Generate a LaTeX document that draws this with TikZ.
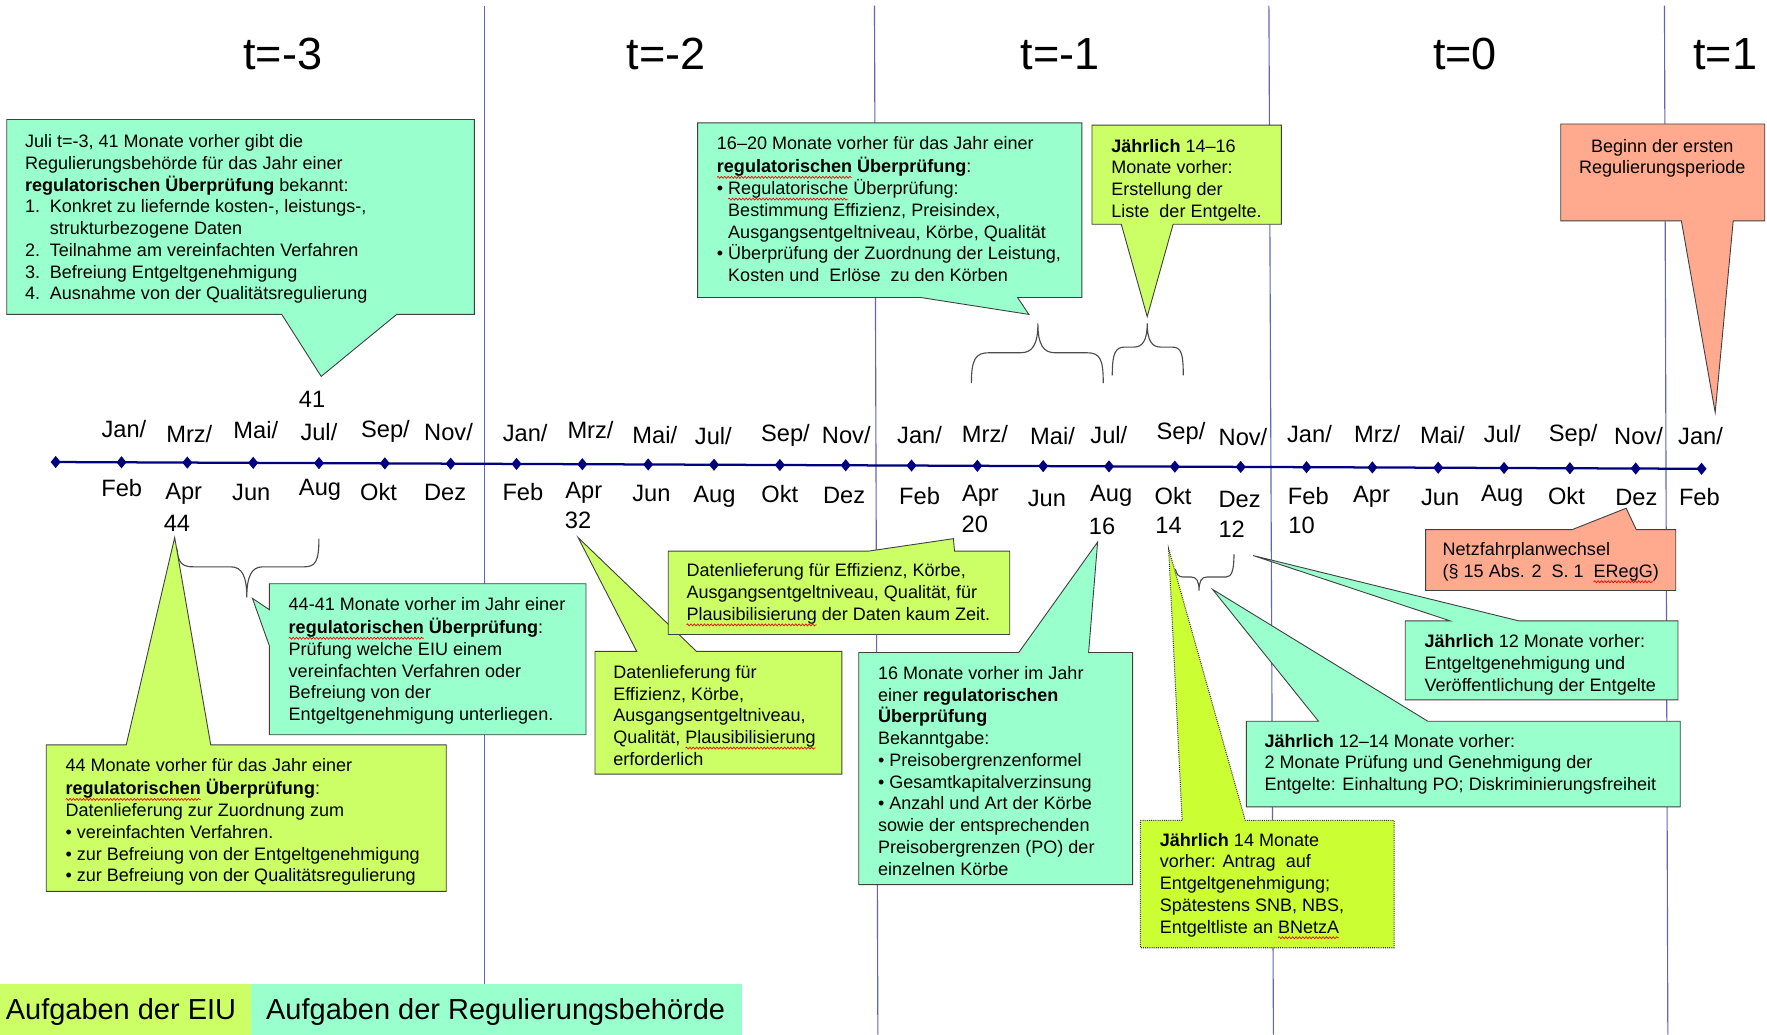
\documentclass[tikz,border=0pt]{standalone}
\usepackage{fontspec}
\setmainfont{Liberation Sans}
\usetikzlibrary{shapes.geometric,decorations.pathmorphing}
\definecolor{teal1}{HTML}{99FFCC}
\definecolor{green1}{HTML}{CCFF66}
\definecolor{lime1}{HTML}{CCFF33}
\definecolor{salmon1}{HTML}{FFAA8F}
\definecolor{navy1}{HTML}{000080}
\definecolor{vl}{HTML}{6464B4}
\newlength\spllen
\newcommand\spl[1]{\settowidth\spllen{#1}\rlap{\tikz[overlay,baseline=0pt]{\draw[red, line width=0.6pt, decorate, decoration={snake, amplitude=0.9pt, segment length=3pt}] (0pt,-4pt) -- (\spllen,-4pt);}}#1}
\newcommand\lstn[1]{\makebox[22pt][l]{#1}}
\newcommand\bul{\makebox[10pt][l]{•}}
\begin{document}
\begin{tikzpicture}[x=1pt,y=-1pt,
  co/.style={draw=black!75, line width=0.8pt},
  cteal/.style={co, fill=teal1},
  cgreen/.style={co, fill=green1},
  clime/.style={draw=black!80, densely dotted, line width=0.9pt, fill=lime1},
  csalmon/.style={co, fill=salmon1},
  ctext/.style={anchor=north west, inner sep=0pt, align=left, font=\fontsize{16}{19.3}\selectfont},
  mon/.style={inner sep=0pt, font=\fontsize{21}{24}\selectfont},
  ttl/.style={inner sep=0pt, font=\fontsize{40}{44}\selectfont},
  leg/.style={anchor=west, inner sep=0pt, font=\fontsize{25.7}{28}\selectfont},
  vline/.style={draw=vl, line width=1pt},
  tline/.style={draw=navy1, line width=2pt},
  dia/.style={diamond, fill=navy1, inner sep=0pt, minimum width=9pt, minimum height=11pt},
  brc/.style={draw=black!70, line width=1pt}]
\useasboundingbox (0,0) rectangle (1568,918);
\fill[white] (0,0) rectangle (1568,918);

% year separators
\draw[vline] (430,5) -- (430,918);
\draw[vline] (776,5) -- (779,918);
\draw[vline] (1126,5) -- (1130,918);
\draw[vline] (1477,5) -- (1480,918);

% titles
\node[ttl] (y3) at (251,48) {t=-3};
\node[ttl] (y2) at (591,48) {t=-2};
\node[ttl] (y1) at (941,48) {t=-1};
\node[ttl] (y0) at (1300,48) {t=0};
\node[ttl] (yp) at (1531,48) {t=1};

% timeline
\coordinate (tA) at (49.4,410);
\coordinate (tB) at (1510,416);
\draw[tline] (tA) -- (tB);
\foreach \i in {0,...,25}{
  \pgfmathsetmacro\mx{49.4+58.42*\i}
  \pgfmathsetmacro\my{410+6*\i/25}
  \node[dia] (m\i) at (\mx,\my) {};
}

% month labels above
\foreach \x/\y/\t [count=\i] in {110/381/Jan,168/385/Mrz,227/382/Mai,283/383/Jul,342/383/Sep,398/383/Nov,
 466/384/Jan,524/382/Mrz,581/386/Mai,633/387/Jul,697/386/Sep,751/386/Nov,
 816/386/Jan,874/385/Mrz,934/387/Mai,984/386/Jul,1048/385/Sep,1103/388/Nov,
 1162/385/Jan,1222/385/Mrz,1280/386/Mai,1333/385/Jul,1396/386/Sep,1454/387/Nov,1509/387/Jan}
 {\node[mon] (up\i) at (\x,\y) {\t/};}
% month labels below
\foreach \x/\y/\t [count=\i] in {108/433/Feb,163/438/Apr,223/437/Jun,284/435/Aug,336/437/Okt,395/437/Dez,
 464/437/Feb,518/437/Apr,578/438/Jun,634/441/Aug,692/438/Okt,749/440/Dez,
 816/440/Feb,870/440/Apr,929/442/Jun,986/440/Aug,1041/440/Okt,1100/443/Dez,
 1161/440/Feb,1217/441/Apr,1278/441/Jun,1333/440/Aug,1390/440/Okt,1452/441/Dez,1508/441/Feb}
 {\node[mon] (dn\i) at (\x,\y) {\t};}
% month counts
\foreach \x/\y/\t in {277/354/41,157/464/44,513/462/32,865/465/20,978/467/16,1037/466/14,1093/470/12,1155/466/10}
 {\node[mon] (n\t) at (\x,\y) {\t};}

% ---------- callouts ----------
% top left
\draw[cteal] (6,106) -- (421,106) -- (421,279) -- (352,279) -- (285,334) -- (250,279) -- (6,279) -- cycle;
\node[ctext] (tl) at (22,117.2) {\strut Juli t=-3, 41 Monate vorher gibt die\\
Regulierungsbehörde für das Jahr einer\\
\textbf{regulatorischen Überprüfung} bekannt:\\
\lstn{1.}Konkret zu liefernde kosten-, leistungs-,\\
\hspace*{22pt}strukturbezogene Daten\\
\lstn{2.}Teilnahme am vereinfachten Verfahren\\
\lstn{3.}Befreiung Entgeltgenehmigung\\
\lstn{4.}Ausnahme von der Qualitätsregulierung};

% top middle
\draw[cteal] (619,109) -- (960,109) -- (960,264) -- (903,264) -- (913,279) -- (817,264) -- (619,264) -- cycle;
\node[ctext] (tm) at (636,119.2) {\strut 16–20 Monate vorher für das Jahr einer\\
\textbf{\spl{regulatorischen} Überprüfung}:\\
\bul\spl{Regulatorische} Überprüfung:\\
\hspace*{10pt}Bestimmung Effizienz, Preisindex,\\
\hspace*{10pt}Ausgangsentgeltniveau, Körbe, Qualität\\
\bul Überprüfung der Zuordnung der Leistung,\\
\hspace*{10pt}Kosten und\ \ Erlöse\ \ zu den Körben};

% top right green
\draw[cgreen] (969,111) -- (1137,111) -- (1137,199) -- (1041,199) -- (1018,281) -- (995,199) -- (969,199) -- cycle;
\node[ctext] (tr) at (986,121.2) {\strut\textbf{Jährlich} 14–16\\
Monate vorher:\\
Erstellung der\\
Liste\ \ der Entgelte.};

% Beginn
\draw[csalmon] (1385,110) -- (1566,110) -- (1566,196) -- (1538,196) -- (1522,366) -- (1492,196) -- (1385,196) -- cycle;
\node[ctext, anchor=north, align=center] (bg) at (1475,121.2) {\strut Beginn der ersten\\ Regulierungsperiode};

% braces above timeline
\draw[brc] (862,340) .. controls (862,318) and (866,313) .. (878,313) -- (906,313)
  .. controls (916,313) and (921,306) .. (921,287) .. controls (921,306) and (926,313) .. (936,313)
  -- (964,313) .. controls (976,313) and (979,318) .. (979,340);
\draw[brc] (987,333) .. controls (987,313) and (990,308) .. (998,308) -- (1006,308)
  .. controls (1014,308) and (1018,302) .. (1018,287) .. controls (1018,302) and (1022,308) .. (1030,308)
  -- (1040,308) .. controls (1048,308) and (1050,313) .. (1050,333);
% braces below timeline
\draw[brc] (157,487) .. controls (158,500) and (162,503) .. (172,503) -- (205,503)
  .. controls (215,503) and (219,512) .. (219,530) .. controls (219,512) and (223,503) .. (233,503)
  -- (270,503) .. controls (280,503) and (283,498) .. (283,478);
\draw[brc] (1043,505) .. controls (1044,510) and (1046,512) .. (1050,512) -- (1057,512)
  .. controls (1062,512) and (1064,516) .. (1064,524) .. controls (1064,516) and (1066,512) .. (1071,512)
  -- (1088,512) .. controls (1093,512) and (1095,506) .. (1095,492);

% 44-41
\draw[cteal] (239,518) -- (520,518) -- (520,652) -- (239,652) -- (239,573) -- (224,531) -- (239,541) -- cycle;
\node[ctext] (c4441) at (256,528.2) {\strut 44-41 Monate vorher im Jahr einer\\
\textbf{\spl{regulatorischen} Überprüfung}:\\
Prüfung welche EIU einem\\
vereinfachten Verfahren oder\\
Befreiung von der\\
Entgeltgenehmigung unterliegen.};

% 44
\draw[cgreen] (41,661) -- (112,661) -- (155,477) -- (187,661) -- (396,661) -- (396,791) -- (41,791) -- cycle;
\node[ctext] (c44) at (58,671.2) {\strut 44 Monate vorher für das Jahr einer\\
\textbf{\spl{regulatorischen} Überprüfung}:\\
Datenlieferung zur Zuordnung zum\\
\bul vereinfachten Verfahren.\\
\bul zur Befreiung von der Entgeltgenehmigung\\
\bul zur Befreiung von der Qualitätsregulierung};

% 32 data delivery
\draw[cgreen] (528,578) -- (565,578) -- (513,477) -- (618,578) -- (747,578) -- (747,687) -- (528,687) -- cycle;
\node[ctext] (c32) at (544,588.2) {\strut Datenlieferung für\\
Effizienz, Körbe,\\
Ausgangsentgeltniveau,\\
Qualität, \spl{Plausibilisierung}\\
erforderlich};

% 20 data delivery
\draw[cgreen] (593,489) -- (771,489) -- (846,478) -- (847,489) -- (896,489) -- (896,563) -- (593,563) -- cycle;
\node[ctext] (c20) at (609,498.2) {\strut Datenlieferung für Effizienz, Körbe,\\
Ausgangsentgeltniveau, Qualität, für\\
\spl{Plausibilisierung} der Daten kaum Zeit.};

% 16
\draw[cteal] (762,579) -- (904,579) -- (974,481) -- (966,579) -- (1005,579) -- (1005,785) -- (762,785) -- cycle;
\node[ctext] (c16) at (779,589.2) {\strut 16 Monate vorher im Jahr\\
einer \textbf{regulatorischen}\\
\textbf{Überprüfung}\\
Bekanntgabe:\\
\bul Preisobergrenzenformel\\
\bul Gesamtkapitalverzinsung\\
\bul Anzahl und Art der Körbe\\
sowie der entsprechenden\\
Preisobergrenzen (PO) der\\
einzelnen Körbe};

% 14
\draw[clime] (1012,728) -- (1049,728) -- (1037,487) -- (1105,728) -- (1237,728) -- (1237,841) -- (1012,841) -- cycle;
\node[ctext] (c14) at (1029,737.2) {\strut\textbf{Jährlich} 14 Monate\\
vorher: Antrag\ \ auf\\
Entgeltgenehmigung;\\
Spätestens SNB, NBS,\\
Entgeltliste an \spl{BNetzA}};

% 12-14
\draw[cteal] (1106,640) -- (1170,640) -- (1076,523) -- (1267,640) -- (1491,640) -- (1491,716) -- (1106,716) -- cycle;
\node[ctext] (c1214) at (1122,649.2) {\strut\textbf{Jährlich} 12–14 Monate vorher:\\
2 Monate Prüfung und Genehmigung der\\
Entgelte: Einhaltung PO; Diskriminierungsfreiheit};

% 12
\draw[cteal] (1247,551) -- (1287,551) -- (1112,493) -- (1348,551) -- (1489,551) -- (1489,621) -- (1247,621) -- cycle;
\node[ctext] (c12) at (1264,561.2) {\strut\textbf{Jährlich} 12 Monate vorher:\\
Entgeltgenehmigung und\\
Veröffentlichung der Entgelte};

% Netzfahrplanwechsel
\draw[csalmon] (1265,470) -- (1395,470) -- (1443,451) -- (1452,470) -- (1487,470) -- (1487,524) -- (1265,524) -- cycle;
\node[ctext] (cnf) at (1280,479.2) {\strut Netzfahrplanwechsel\\
(§ 15 Abs. 2\ \ S. 1\ \ \spl{ERegG})};

% legend
\fill[green1] (0,873) rectangle (223,918);
\fill[teal1] (223,873) rectangle (658,918);
\node[leg] (lg1) at (5,898) {Aufgaben der EIU};
\node[leg] (lg2) at (236,898) {Aufgaben der Regulierungsbehörde};
\end{tikzpicture}
\end{document}
